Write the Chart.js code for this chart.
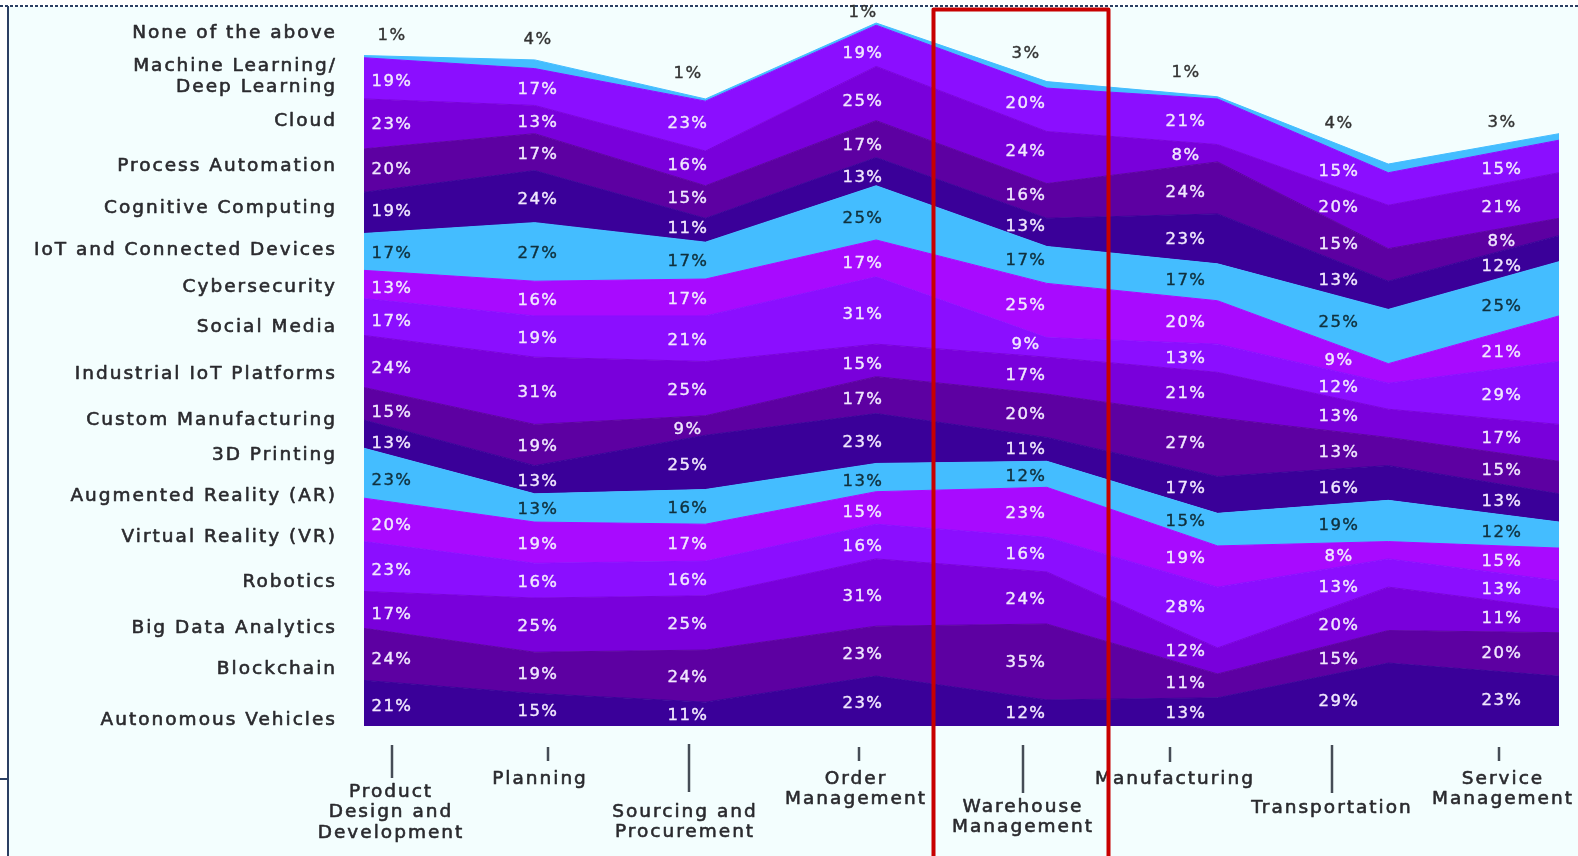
<!DOCTYPE html>
<html>
<head>
<meta charset="utf-8">
<script src="https://cdn.jsdelivr.net/npm/chart.js@4.4.0/dist/chart.umd.min.js"></script>
<style>
  html, body { margin: 0; padding: 0; background: #ffffff; }
  #wrap { position: relative; width: 1578px; height: 856px; }
</style>
</head>
<body>
<div id="wrap"><canvas id="chart" width="1578" height="856"></canvas></div>
<script>
// Categories (x axis)
const categories = [
    ['Product', 'Design and', 'Development'],
    'Planning',
    ['Sourcing and', 'Procurement'],
    ['Order', 'Management'],
    ['Warehouse', 'Management'],
    'Manufacturing',
    'Transportation',
    ['Service', 'Management']
];

// Series values, bottom of the stack first (percent)
const autonomousVehicles  = [21, 15, 11, 23, 12, 13, 29, 23];
const blockchain          = [24, 19, 24, 23, 35, 11, 15, 20];
const bigDataAnalytics    = [17, 25, 25, 31, 24, 12, 20, 11];
const robotics            = [23, 16, 16, 16, 16, 28, 13, 13];
const virtualReality      = [20, 19, 17, 15, 23, 19, 8, 15];
const augmentedReality    = [23, 13, 16, 13, 12, 15, 19, 12];
const printing3d          = [13, 13, 25, 23, 11, 17, 16, 13];
const customManufacturing = [15, 19, 9, 17, 20, 27, 13, 15];
const industrialIot       = [24, 31, 25, 15, 17, 21, 13, 17];
const socialMedia         = [17, 19, 21, 31, 9, 13, 12, 29];
const cybersecurity       = [13, 16, 17, 17, 25, 20, 9, 21];
const iotDevices          = [17, 27, 17, 25, 17, 17, 25, 25];
const cognitiveComputing  = [19, 24, 11, 13, 13, 23, 13, 12];
const processAutomation   = [20, 17, 15, 17, 16, 24, 15, 8];
const cloud               = [23, 13, 16, 25, 24, 8, 20, 21];
const machineLearning     = [19, 17, 23, 19, 20, 21, 15, 15];
const noneOfTheAbove      = [1, 4, 1, 1, 3, 1, 4, 3];

// colours
const INDIGO = '#3a0099';
const DARK = '#5d00a2';
const PURPLE = '#7900db';
const VIOLET = '#8b0eff';
const MAGENTA = '#a80aff';
const CYAN = '#44bdff';

const series = [
    { name: ['Autonomous Vehicles'], data: autonomousVehicles, color: INDIGO },
    { name: ['Blockchain'], data: blockchain, color: DARK },
    { name: ['Big Data Analytics'], data: bigDataAnalytics, color: PURPLE },
    { name: ['Robotics'], data: robotics, color: VIOLET },
    { name: ['Virtual Reality (VR)'], data: virtualReality, color: MAGENTA },
    { name: ['Augmented Reality (AR)'], data: augmentedReality, color: CYAN },
    { name: ['3D Printing'], data: printing3d, color: INDIGO },
    { name: ['Custom Manufacturing'], data: customManufacturing, color: DARK },
    { name: ['Industrial IoT Platforms'], data: industrialIot, color: PURPLE },
    { name: ['Social Media'], data: socialMedia, color: VIOLET },
    { name: ['Cybersecurity'], data: cybersecurity, color: MAGENTA },
    { name: ['IoT and Connected Devices'], data: iotDevices, color: CYAN },
    { name: ['Cognitive Computing'], data: cognitiveComputing, color: INDIGO },
    { name: ['Process Automation'], data: processAutomation, color: DARK },
    { name: ['Cloud'], data: cloud, color: PURPLE },
    { name: ['Machine Learning/', 'Deep Learning'], data: machineLearning, color: VIOLET },
    { name: ['None of the above'], data: noneOfTheAbove, color: CYAN }
];

// layout of the hand-placed texts
const seriesLabelY = [720, 669, 628, 582, 537, 496, 455, 420, 374, 327, 287, 250, 208, 166, 121, 66, 33];
const valueLabelX = [392, 538, 688, 863, 1026, 1186, 1339, 1502];
const axisLayout = [
    { x: 391, tick: [392, 745, 778], y: 792 },
    { x: 540, tick: [548, 747, 761], y: 779 },
    { x: 685, tick: [689, 744, 792], y: 812 },
    { x: 856, tick: [859, 747, 761], y: 779 },
    { x: 1023, tick: [1023, 745, 793], y: 807 },
    { x: 1175, tick: [1170, 747, 762], y: 779 },
    { x: 1332, tick: [1332, 745, 793], y: 808 },
    { x: 1503, tick: [1499, 747, 761], y: 779 }
];
const FONT = '"DejaVu Sans", sans-serif';

// band top/bottom at a pixel x, interpolated between vertices
function bandAt(chart, i, j, lx) {
    const meta = chart.getDatasetMeta(i);
    const below = i > 0 ? chart.getDatasetMeta(i - 1) : null;
    const base = chart.scales.y.getPixelForValue(0);
    const p = meta.data[j];
    let k = lx >= p.x ? j + 1 : j - 1;
    if (k < 0 || k >= meta.data.length) k = j;
    const q = meta.data[k];
    const t = q.x === p.x ? 0 : (lx - p.x) / (q.x - p.x);
    const top = p.y + (q.y - p.y) * t;
    const bot = below ? below.data[j].y + (below.data[k].y - below.data[j].y) * t : base;
    return { top, bot };
}

// filled text with a hairline stroke so it reads a bit heavier
function heavyText(c, text, x, y, weight) {
    c.fillText(text, x, y);
    c.lineWidth = weight;
    c.strokeStyle = c.fillStyle;
    c.strokeText(text, x, y);
}

const overlay = {
    id: 'overlay',
    beforeDraw(chart) {
        const c = chart.ctx;
        c.save();
        c.fillStyle = '#ffffff';
        c.fillRect(0, 0, chart.width, chart.height);
        c.fillStyle = '#f3fefe';
        c.fillRect(9, 7, chart.width - 9, chart.height - 7);
        c.restore();
    },
    afterDraw(chart) {
        const c = chart.ctx;
        c.save();

        // frame lines
        c.strokeStyle = '#2b3f63';
        c.lineWidth = 2;
        c.setLineDash([3, 2]);
        c.beginPath(); c.moveTo(0, 6); c.lineTo(chart.width, 6); c.stroke();
        c.setLineDash([]);
        c.beginPath(); c.moveTo(8, 6); c.lineTo(8, chart.height); c.stroke();
        c.beginPath(); c.moveTo(0, 779); c.lineTo(8, 779); c.stroke();

        c.textBaseline = 'middle';
        c.lineJoin = 'round';

        // series names on the left
        c.letterSpacing = '2px';
        c.font = '18.5px ' + FONT;
        c.fillStyle = '#2a2a2e';
        c.textAlign = 'right';
        series.forEach((s, i) => {
            s.name.forEach((line, n) => heavyText(c, line, 337, seriesLabelY[i] + n * 21, 0.6));
        });

        // percentage labels
        c.letterSpacing = '1.4px';
        c.font = '16.5px ' + FONT;
        c.textAlign = 'center';
        const last = series.length - 1;
        series.forEach((s, i) => {
            s.data.forEach((v, j) => {
                const lx = valueLabelX[j];
                const b = bandAt(chart, i, j, lx);
                let y = (b.top + b.bot) / 2 + 2;
                if (i === last) {
                    y = Math.max(b.top - 21, 13);
                    c.fillStyle = '#333333';
                } else {
                    c.fillStyle = s.color === CYAN ? '#10303c' : '#f1e8ff';
                }
                heavyText(c, v + '%', lx, y, 0.4);
            });
        });

        // category axis: ticks and labels
        c.letterSpacing = '2px';
        c.font = '18.5px ' + FONT;
        categories.forEach((cat, j) => {
            const a = axisLayout[j];
            c.strokeStyle = '#454c56';
            c.lineWidth = 2.5;
            c.beginPath(); c.moveTo(a.tick[0], a.tick[1]); c.lineTo(a.tick[0], a.tick[2]); c.stroke();
            c.fillStyle = '#2a2a2e';
            const lines = Array.isArray(cat) ? cat : [cat];
            lines.forEach((line, n) => heavyText(c, line, a.x, a.y + n * 20.5, 0.6));
        });

        // highlight box around Warehouse Management
        c.strokeStyle = '#c80000';
        c.lineWidth = 4;
        c.strokeRect(933.5, 9.5, 175, 860);

        c.restore();
    }
};

const datasets = series.map((s, i) => ({
    label: s.name.join(' '),
    data: s.data,
    backgroundColor: s.color,
    borderColor: s.color,
    borderWidth: 1,
    fill: i === 0 ? 'origin' : '-1',
    pointRadius: 0,
    tension: 0
}));

new Chart(document.getElementById('chart').getContext('2d'), {
    type: 'line',
    data: { labels: categories, datasets: datasets },
    options: {
        responsive: false,
        animation: false,
        devicePixelRatio: 1,
        layout: { padding: { left: 364, right: 19, top: 10, bottom: 130 } },
        plugins: {
            legend: { display: false },
            tooltip: { enabled: false }
        },
        scales: {
            x: { display: false, offset: false },
            y: { display: false, stacked: true, min: 0, max: 330 }
        }
    },
    plugins: [overlay]
});
</script>
</body>
</html>
